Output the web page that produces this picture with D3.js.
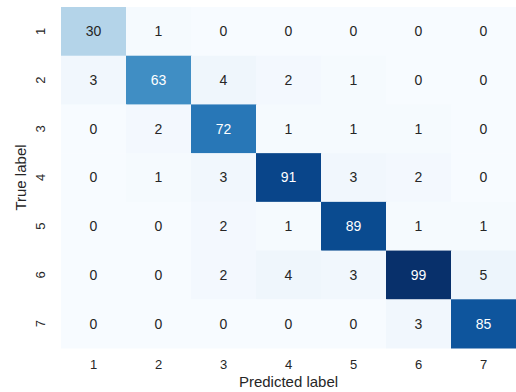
<!DOCTYPE html>
<html>
<head>
<meta charset="utf-8">
<script src="https://cdn.jsdelivr.net/npm/d3@7"></script>
<style>
  body { margin: 0; background: #fff; }
  text { font-family: "Liberation Sans", Arial, sans-serif; }
</style>
</head>
<body>
<script>
"use strict";

(function() {

let width = 516;
let height = 392;

// class labels
let labels = ['1', '2', '3', '4', '5', '6', '7'];

// confusion matrix rows = true label, cols = predicted label
let row1 = [30, 1, 0, 0, 0, 0, 0];
let row2 = [3, 63, 4, 2, 1, 0, 0];
let row3 = [0, 2, 72, 1, 1, 1, 0];
let row4 = [0, 1, 3, 91, 3, 2, 0];
let row5 = [0, 0, 2, 1, 89, 1, 1];
let row6 = [0, 0, 2, 4, 3, 99, 5];
let row7 = [0, 0, 0, 0, 0, 3, 85];
let matrix = [row1, row2, row3, row4, row5, row6, row7];

let margin = {top: 7, right: 0, bottom: 44, left: 61};

let svg = d3.select('body')
    .append('svg')
    .attr('width', width)
    .attr('height', height);

let g = svg.append('g')
    .attr('transform', 'translate(' + margin.left + ',' + margin.top + ')');

let innerW = width - margin.left - margin.right;
let innerH = height - margin.top - margin.bottom;

let x = d3.scaleBand().domain(labels).range([0, innerW]);
let y = d3.scaleBand().domain(labels).range([0, innerH]);

let maxVal = d3.max(matrix, function(r) { return d3.max(r); });
let color = d3.scaleSequential(d3.interpolateBlues).domain([0, maxVal]);

let cells = [];
matrix.forEach(function(r, i) {
    r.forEach(function(v, j) {
        cells.push({row: labels[i], col: labels[j], value: v});
    });
});

// pick text colour from the cell's luminance, like seaborn does
function textColor(v) {
    let c = d3.rgb(color(v));
    let lum = [c.r, c.g, c.b].map(function(ch) {
        ch = ch / 255;
        return ch <= 0.03928 ? ch / 12.92 : Math.pow((ch + 0.055) / 1.055, 2.4);
    });
    let l = 0.2126 * lum[0] + 0.7152 * lum[1] + 0.0722 * lum[2];
    return l > 0.408 ? '#262626' : '#ffffff';
}

g.selectAll('.cell')
    .data(cells)
    .enter()
    .append('rect')
    .attr('class', 'cell')
    .attr('x', function(d) { return x(d.col); })
    .attr('y', function(d) { return y(d.row); })
    .attr('width', x.bandwidth() + 0.5)
    .attr('height', y.bandwidth() + 0.5)
    .attr('fill', function(d) { return color(d.value); });

g.selectAll('.annot')
    .data(cells)
    .enter()
    .append('text')
    .attr('class', 'annot')
    .attr('x', function(d) { return x(d.col) + x.bandwidth() / 2; })
    .attr('y', function(d) { return y(d.row) + y.bandwidth() / 2; })
    .attr('dy', '0.35em')
    .attr('text-anchor', 'middle')
    .style('font-size', '14px')
    .style('fill', function(d) { return textColor(d.value); })
    .text(function(d) { return d.value; });

// axes without tick lines
let xAxis = g.append('g')
    .attr('transform', 'translate(0,' + innerH + ')')
    .call(d3.axisBottom(x).tickSize(0).tickPadding(12));
xAxis.select('.domain').remove();
xAxis.selectAll('text')
    .style('font-size', '13px')
    .style('fill', '#262626')
    .style('font-family', '"Liberation Sans", Arial, sans-serif');

let yAxis = g.append('g')
    .call(d3.axisLeft(y).tickSize(0).tickPadding(0));
yAxis.select('.domain').remove();
yAxis.selectAll('text')
    .attr('x', 0)
    .attr('dy', 0)
    .attr('text-anchor', 'middle')
    .attr('transform', 'translate(-21,0) rotate(-90)')
    .attr('dominant-baseline', 'central')
    .style('font-size', '13px')
    .style('fill', '#262626')
    .style('font-family', '"Liberation Sans", Arial, sans-serif');

svg.append('text')
    .attr('x', margin.left + innerW / 2)
    .attr('y', 387)
    .attr('text-anchor', 'middle')
    .style('font-size', '15px')
    .style('fill', '#262626')
    .text('Predicted label');

svg.append('text')
    .attr('transform', 'translate(26,' + (margin.top + innerH / 2) + ') rotate(-90)')
    .attr('text-anchor', 'middle')
    .style('font-size', '15px')
    .style('fill', '#262626')
    .text('True label');

})();
</script>
</body>
</html>
